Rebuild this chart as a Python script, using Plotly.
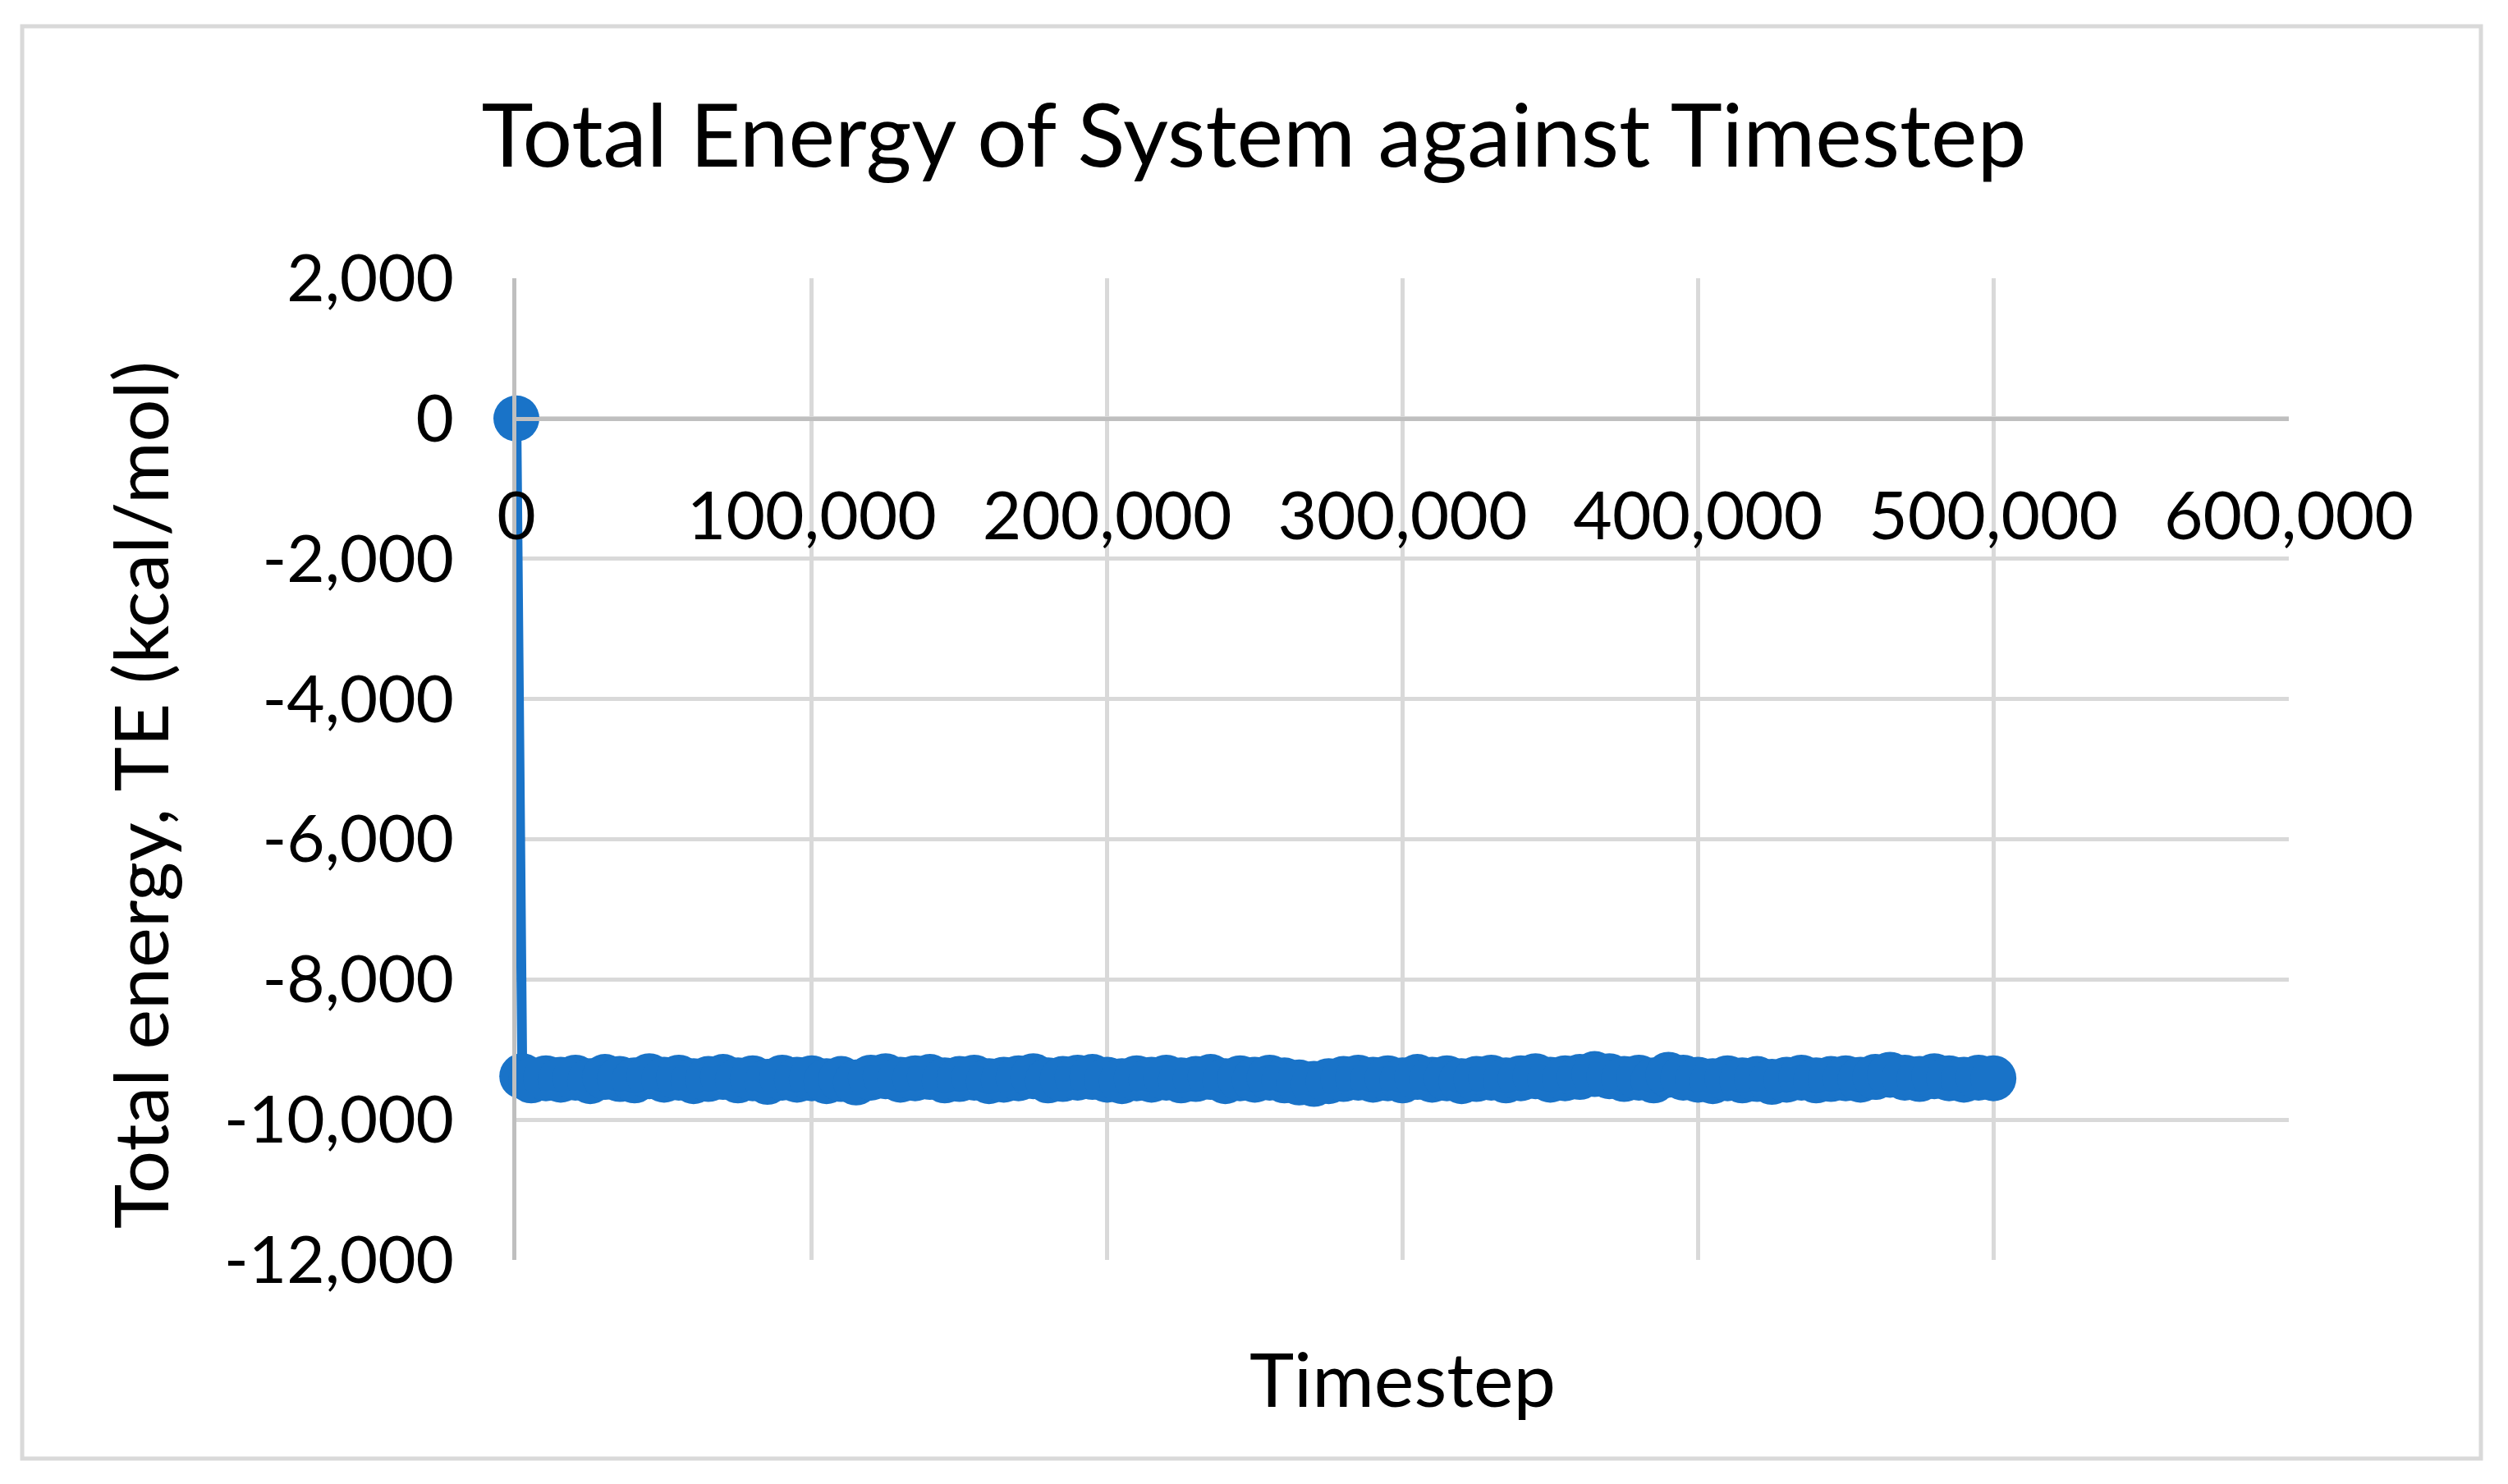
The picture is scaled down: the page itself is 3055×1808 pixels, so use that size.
import plotly.graph_objects as go

# ---- data ----
timestep = [0, 2000] + list(range(5000, 500001, 5000))
total_energy = [0, -9380,
    -9440, -9410, -9430, -9400, -9450, -9390, -9420, -9440, -9380, -9430,
    -9400, -9450, -9420, -9390, -9440, -9410, -9460, -9400, -9430, -9410,
    -9450, -9420, -9470, -9400, -9380, -9430, -9410, -9390, -9440, -9420,
    -9400, -9450, -9430, -9410, -9380, -9440, -9420, -9400, -9390, -9430,
    -9450, -9410, -9430, -9400, -9440, -9420, -9390, -9450, -9410, -9430,
    -9400, -9440, -9470, -9490, -9450, -9420, -9400, -9430, -9410, -9440,
    -9390, -9430, -9410, -9450, -9420, -9400, -9440, -9410, -9380, -9430,
    -9410, -9390, -9350, -9380, -9420, -9400, -9440, -9360, -9400, -9430,
    -9450, -9410, -9440, -9420, -9460, -9430, -9400, -9440, -9420, -9410,
    -9430, -9390, -9360, -9400, -9420, -9380, -9410, -9430, -9400, -9410,
]

x_tick_vals = [0, 100000, 200000, 300000, 400000, 500000, 600000]
x_tick_text = ["0", "100,000", "200,000", "300,000", "400,000", "500,000", "600,000"]
y_tick_vals = [2000, 0, -2000, -4000, -6000, -8000, -10000, -12000]
y_tick_text = ["2,000", "0", "-2,000", "-4,000", "-6,000", "-8,000", "-10,000", "-12,000"]

title_text = "Total Energy of System against Timestep"
x_title = "Timestep"
y_title = "Total energy, TE (kcal/mol)"

# ---- styling ----
FONT = "Lato, 'Open Sans', sans-serif"
BLUE = "#1973C8"
GRID = "#D9D9D9"
AXIS = "#BFBFBF"

W, H = 3055, 1808
L, R, T, B = 629, 3055 - 2788, 339, 1808 - 1535
pw, ph = W - L - R, H - T - B

fig = go.Figure()
fig.add_trace(go.Scatter(
    x=timestep, y=total_energy, mode="lines+markers",
    line=dict(color=BLUE, width=12),
    marker=dict(color=BLUE, size=56, line=dict(width=0)),
    showlegend=False, cliponaxis=False,
))

fig.update_layout(
    width=W, height=H, autosize=False,
    margin=dict(l=L, r=R, t=T, b=B, pad=0),
    paper_bgcolor="white", plot_bgcolor="white",
    font=dict(family=FONT, color="black"),
    title=dict(text=title_text, x=0.5, xref="container", xanchor="center",
               y=1 - 166 / H, yref="container", yanchor="middle",
               font=dict(size=107, family=FONT, color="black")),
    xaxis=dict(range=[0, 600000], tickvals=x_tick_vals, ticktext=x_tick_text,
               showgrid=True, gridcolor=GRID, gridwidth=5,
               showline=True, linecolor=AXIS, linewidth=5,
               zeroline=False, ticks="", anchor="free", position=12000 / 14000,
               ticklabelstandoff=46,
               tickfont=dict(size=82, family=FONT, color="black")),
    yaxis=dict(range=[-12000, 2000], tickvals=y_tick_vals, ticktext=y_tick_text,
               showgrid=True, gridcolor=GRID, gridwidth=5,
               showline=True, linecolor=AXIS, linewidth=5,
               zeroline=False, ticks="", ticklabelstandoff=55,
               tickfont=dict(size=80, family=FONT, color="black")),
)

# axis titles as annotations
fig.add_annotation(text=x_title, xref="paper", yref="paper",
                   x=0.5, y=(1535 - 1678) / ph, xanchor="center", yanchor="middle",
                   showarrow=False, font=dict(size=92, family=FONT, color="black"))
fig.add_annotation(text=y_title, xref="paper", yref="paper", textangle=-90,
                   x=(169 - L) / pw, y=(1535 - 969) / ph, xanchor="center", yanchor="middle",
                   showarrow=False, font=dict(size=92, family=FONT, color="black"))

# chart-area border
fig.add_shape(type="rect", xref="paper", yref="paper",
              x0=(27 - L) / pw, x1=(3022 - L) / pw,
              y0=(1535 - 1777) / ph, y1=(1535 - 32) / ph,
              line=dict(color=GRID, width=5), fillcolor="rgba(0,0,0,0)", layer="below")

fig.write_html("out.html", config={"displayModeBar": False},
               post_script="document.body.style.margin='0';")
